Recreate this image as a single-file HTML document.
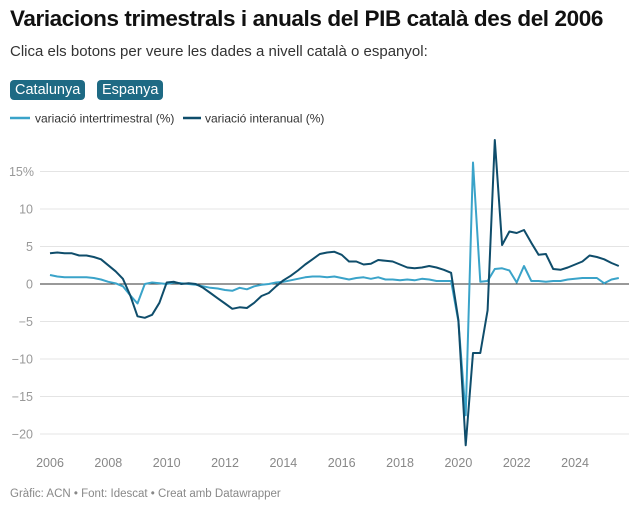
<!DOCTYPE html>
<html><head><meta charset="utf-8"><style>
body{margin:0;width:640px;height:513px;background:#fff;font-family:"Liberation Sans",sans-serif;overflow:hidden;position:relative}
.t{position:absolute;left:10px;top:6px;font-size:22.5px;font-weight:bold;color:#111;letter-spacing:-0.4px}
.s{position:absolute;left:10px;top:43px;font-size:15px;color:#333}
.b{position:absolute;top:80px;height:20px;line-height:20px;padding:0 5px;background:#1e6a84;color:#fff;border-radius:4px;font-size:14.5px}
.f{position:absolute;left:10px;top:488px;font-size:11.5px;color:#888}
</style></head><body>
<div class="t">Variacions trimestrals i anuals del PIB català des del 2006</div>
<div class="s">Clica els botons per veure les dades a nivell català o espanyol:</div>
<div class="b" style="left:10px">Catalunya</div>
<div class="b" style="left:97px">Espanya</div>
<svg width="640" height="513" style="position:absolute;left:0;top:0" font-family="Liberation Sans, sans-serif">
<line x1="10" y1="118" x2="30" y2="118" stroke="#3aa3c9" stroke-width="2.5"/>
<text x="35" y="122.5" font-size="12" fill="#333">variació intertrimestral (%)</text>
<line x1="183" y1="118" x2="201" y2="118" stroke="#0f4d6b" stroke-width="2.5"/>
<text x="205" y="122.5" font-size="12" fill="#333">variació interanual (%)</text>
<g id="grid" stroke="#e4e4e4" stroke-width="1"></g>
<g id="yl" font-size="12.5" fill="#999" text-anchor="end"></g>
<g id="xl" font-size="12.5" fill="#888" text-anchor="middle"></g>
<line x1="40" y1="284" x2="629" y2="284" stroke="#333" stroke-width="1"/>
<polyline id="q" fill="none" stroke="#3aa3c9" stroke-width="2" stroke-linejoin="round"/>
<polyline id="a" fill="none" stroke="#0f4d6b" stroke-width="2" stroke-linejoin="round"/>
</svg>
<div class="f">Gràfic: ACN • Font: Idescat • Creat amb Datawrapper</div>
<script>
var ns="http://www.w3.org/2000/svg";
function Y(v){return 284-v*7.5}
function X(i){return 50+i/4*29.17}
var g=document.getElementById('grid'),yl=document.getElementById('yl'),xl=document.getElementById('xl');
[15,10,5,-5,-10,-15,-20].forEach(function(v){
var l=document.createElementNS(ns,'line');l.setAttribute('x1',40);l.setAttribute('x2',629);l.setAttribute('y1',Y(v));l.setAttribute('y2',Y(v));g.appendChild(l);});
[15,10,5,0,-5,-10,-15,-20].forEach(function(v){
var t=document.createElementNS(ns,'text');t.setAttribute('x',v==15?34:33);t.setAttribute('y',Y(v)+4.5);t.textContent=v==15?'15%':(v<0?'\u2212'+(-v):v);yl.appendChild(t);});
for(var y=2006;y<=2024;y+=2){var t=document.createElementNS(ns,'text');t.setAttribute('x',X((y-2006)*4));t.setAttribute('y',467);t.textContent=y;xl.appendChild(t);}
var A=[4.1,4.2,4.1,4.1,3.8,3.8,3.6,3.3,2.5,1.7,0.7,-1.5,-4.3,-4.5,-4.1,-2.5,0.2,0.3,0,0.1,0,-0.5,-1.2,-1.9,-2.6,-3.3,-3.1,-3.2,-2.5,-1.6,-1.2,-0.3,0.5,1.1,1.8,2.6,3.3,4.0,4.2,4.3,3.9,3.0,3.0,2.6,2.7,3.2,3.1,3.0,2.6,2.2,2.1,2.2,2.4,2.2,1.9,1.5,-4.8,-21.5,-9.2,-9.2,-3.5,19.2,5.2,7.0,6.8,7.2,5.5,3.9,4.0,2.0,1.9,2.2,2.6,3.0,3.8,3.6,3.3,2.8,2.4];
var Q=[1.2,1.0,0.9,0.9,0.9,0.9,0.8,0.6,0.3,0.1,-0.3,-1.5,-2.6,0,0.2,0.1,0,0.2,0.1,0,-0.1,-0.3,-0.5,-0.6,-0.8,-0.9,-0.5,-0.7,-0.3,-0.1,0,0.2,0.3,0.5,0.7,0.9,1.0,1.0,0.9,1.0,0.8,0.6,0.8,0.9,0.7,0.9,0.6,0.6,0.5,0.6,0.5,0.7,0.6,0.4,0.4,0.4,-5.0,-17.5,16.2,0.3,0.4,2.0,2.1,1.8,0.2,2.4,0.4,0.4,0.3,0.4,0.4,0.6,0.7,0.8,0.8,0.8,0.1,0.6,0.8];
function pts(d){return d.map(function(v,i){return X(i).toFixed(1)+','+Y(v).toFixed(1)}).join(' ')}
document.getElementById('a').setAttribute('points',pts(A));
document.getElementById('q').setAttribute('points',pts(Q));
</script>
</body></html>
